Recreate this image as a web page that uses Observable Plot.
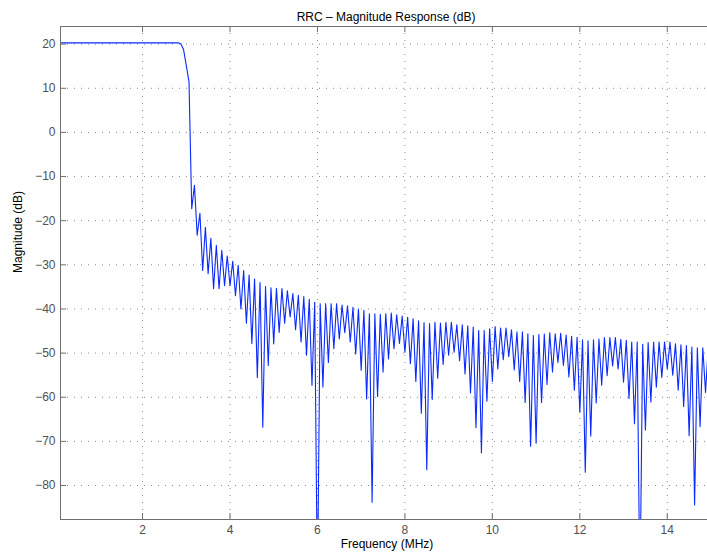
<!DOCTYPE html>
<html>
<head>
<meta charset="utf-8">
<script src="https://cdn.jsdelivr.net/npm/d3@7"></script>
<script src="https://cdn.jsdelivr.net/npm/@observablehq/plot@0.6"></script>
<style>
  html, body { margin: 0; padding: 0; background: #fff; }
  #chart { width: 707px; height: 559px; overflow: hidden; }
</style>
</head>
<body>
<div id="chart"></div>
<script>
// ---- chart data ----
const titleText = "RRC – Magnitude Response (dB)";
const xLabelText = "Frequency (MHz)";
const yLabelText = "Magnitude (dB)";

const xTicks = [2, 4, 6, 8, 10, 12, 14];
const yTicks = [-80, -70, -60, -50, -40, -30, -20, -10, 0, 10, 20];
const xDomain = [0.124, 14.92];
const yDomain = [-87.7, 24.0];

const freqMHz = [
  0.125, 0.5, 1, 1.5, 2, 2.5, 2.75, 2.8125, 2.875, 2.9375,
  3, 3.0625, 3.125, 3.1875, 3.25, 3.3125, 3.375, 3.4375, 3.5, 3.5625, 3.625, 3.6875, 3.75, 3.8125, 3.875, 3.9375,
  4, 4.0625, 4.125, 4.1875, 4.25, 4.3125, 4.375, 4.4375, 4.5, 4.5625, 4.625, 4.6875, 4.75, 4.8125, 4.875, 4.9375,
  5, 5.0625, 5.125, 5.1875, 5.25, 5.3125, 5.375, 5.4375, 5.5, 5.5625, 5.625, 5.6875, 5.75, 5.8125, 5.875, 5.9375,
  6, 6.0625, 6.125, 6.1875, 6.25, 6.3125, 6.375, 6.4375, 6.5, 6.5625, 6.625, 6.6875, 6.75, 6.8125, 6.875, 6.9375,
  7, 7.0625, 7.125, 7.1875, 7.25, 7.3125, 7.375, 7.4375, 7.5, 7.5625, 7.625, 7.6875, 7.75, 7.8125, 7.875, 7.9375,
  8, 8.0625, 8.125, 8.1875, 8.25, 8.3125, 8.375, 8.4375, 8.5, 8.5625, 8.625, 8.6875, 8.75, 8.8125, 8.875, 8.9375,
  9, 9.0625, 9.125, 9.1875, 9.25, 9.3125, 9.375, 9.4375, 9.5, 9.5625, 9.625, 9.6875, 9.75, 9.8125, 9.875, 9.9375,
  10, 10.0625, 10.125, 10.1875, 10.25, 10.3125, 10.375, 10.4375, 10.5, 10.5625, 10.625, 10.6875, 10.75, 10.8125, 10.875, 10.9375,
  11, 11.0625, 11.125, 11.1875, 11.25, 11.3125, 11.375, 11.4375, 11.5, 11.5625, 11.625, 11.6875, 11.75, 11.8125, 11.875, 11.9375,
  12, 12.0625, 12.125, 12.1875, 12.25, 12.3125, 12.375, 12.4375, 12.5, 12.5625, 12.625, 12.6875, 12.75, 12.8125, 12.875, 12.9375,
  13, 13.0625, 13.125, 13.1875, 13.25, 13.3125, 13.375, 13.4375, 13.5, 13.5625, 13.625, 13.6875, 13.75, 13.8125, 13.875, 13.9375,
  14, 14.0625, 14.125, 14.1875, 14.25, 14.3125, 14.375, 14.4375, 14.5, 14.5625, 14.625, 14.6875, 14.75, 14.8125, 14.875, 14.9375
];

const magnitudeDb = [
  20.3, 20.3, 20.3, 20.3, 20.3, 20.3, 20.3, 20.3, 20.1, 18.8,
  15.2, 11.5, -17.3, -12, -23.3, -18.3, -31.3, -21.5, -32, -24, -35.4, -25.6, -35.4, -26.7, -34.7, -28,
  -34.7, -29.2, -37, -30.1, -40, -31.3, -43.2, -32.3, -47.8, -33.2, -55.5, -34, -66.8, -34.9, -52.8, -35.2,
  -47.9, -35.3, -45.3, -35.4, -43.2, -35.9, -41.8, -36.5, -44.7, -36.9, -47.5, -37.2, -50.5, -37.8, -57.3, -38.5,
  -105, -38.8, -57.7, -38.8, -52.1, -38.8, -49, -38.8, -46.8, -39.1, -45.4, -39.3, -47.5, -39.6, -50.2, -40,
  -53.9, -40.3, -60.4, -41.1, -83.8, -41.1, -59.8, -41.2, -54.3, -41.1, -51.3, -40.9, -49, -41.3, -47.8, -41.6,
  -49.8, -41.9, -52.4, -42.2, -56.4, -42.7, -63.6, -43.1, -76.4, -43.3, -60.5, -43, -55.7, -43.2, -52.6, -43,
  -50.5, -43, -49.8, -43.6, -51.7, -43.6, -54.7, -43.8, -59, -44.1, -66.9, -44.9, -72.6, -44.9, -60.9, -44.5,
  -56.4, -44, -53.6, -44.3, -51.5, -44.3, -50.8, -44.7, -53.8, -45.2, -56.4, -45.2, -61.2, -45.6, -71.1, -46,
  -70.4, -45.8, -61.2, -45.7, -57.1, -45.4, -54.3, -45.6, -52.1, -45.5, -52.8, -45.9, -55.4, -46.2, -58.4, -46.4,
  -63.4, -47, -77, -47.2, -68.8, -47, -61.3, -46.8, -57.3, -46.5, -55.1, -46.5, -52.9, -46.5, -53.6, -46.9,
  -56.6, -47.1, -60.3, -47.5, -66, -47.5, -105, -48, -67.4, -47.6, -61.1, -47.5, -57.7, -47.5, -55.5, -47.5,
  -53.6, -47.5, -55, -47.9, -58.4, -48.1, -62.1, -48.3, -68.7, -48.6, -84.4, -48.8, -66.6, -48.8, -58.9, -48.5
];

// ---- layout ----
const W = 707, H = 559;
const M = {top: 26, right: 0, bottom: 40, left: 60};
const plotW = W - M.left - M.right;
const plotH = H - M.top - M.bottom;

const data = freqMHz.map((f, i) => ({f, db: magnitudeDb[i]}));
const fmt = d => (d < 0 ? "\u2212" + Math.abs(d) : String(d));

const axisColor = "#6e6e6e";
const gridColor = "#8a8a8a";
const textGray = "#505050";

const chart = Plot.plot({
  width: W,
  height: H,
  marginTop: M.top,
  marginRight: M.right,
  marginBottom: M.bottom,
  marginLeft: M.left,
  style: {
    fontFamily: "'Liberation Sans', Arial, Helvetica, sans-serif",
    fontSize: "12px",
    background: "#ffffff",
    color: "#000"
  },
  x: {domain: xDomain, type: "linear"},
  y: {domain: yDomain, type: "linear"},
  marks: [
    Plot.gridX(xTicks, {stroke: gridColor, strokeOpacity: 1, strokeDasharray: "1,6"}),
    Plot.gridY(yTicks, {stroke: gridColor, strokeOpacity: 1, strokeDasharray: "1,6"}),
    Plot.line(data, {x: "f", y: "db", stroke: "#0a2aff", strokeWidth: 1.1, clip: true}),
    // frame (left, top, bottom)
    Plot.ruleX([xDomain[0]], {stroke: axisColor, strokeWidth: 1}),
    Plot.ruleY(yDomain, {stroke: axisColor, strokeWidth: 1}),
    // inward ticks
    Plot.ruleX(xTicks, {stroke: axisColor, insetTop: plotH - 6}),
    Plot.ruleX(xTicks, {stroke: axisColor, insetBottom: plotH - 6}),
    Plot.ruleY(yTicks, {stroke: axisColor, insetRight: plotW - 6}),
    // tick labels
    Plot.axisX(xTicks, {tickSize: 0, tickPadding: 6, fill: textGray, fontSize: 12, label: null, tickFormat: fmt}),
    Plot.axisY(yTicks, {tickSize: 0, tickPadding: 5, fill: textGray, fontSize: 12, label: null, tickFormat: fmt}),
    // title and axis labels
    Plot.text([titleText], {text: d => d, frameAnchor: "top", dy: -14, dx: 2, fontSize: 12, fill: "#000"}),
    Plot.text([xLabelText], {text: d => d, frameAnchor: "bottom", dy: 28, dx: 3, fontSize: 12, fill: "#000"}),
    Plot.text([yLabelText], {text: d => d, frameAnchor: "left", dx: -42, rotate: -90, fontSize: 12, fill: "#000"})
  ]
});

document.getElementById("chart").appendChild(chart);
</script>
</body>
</html>
